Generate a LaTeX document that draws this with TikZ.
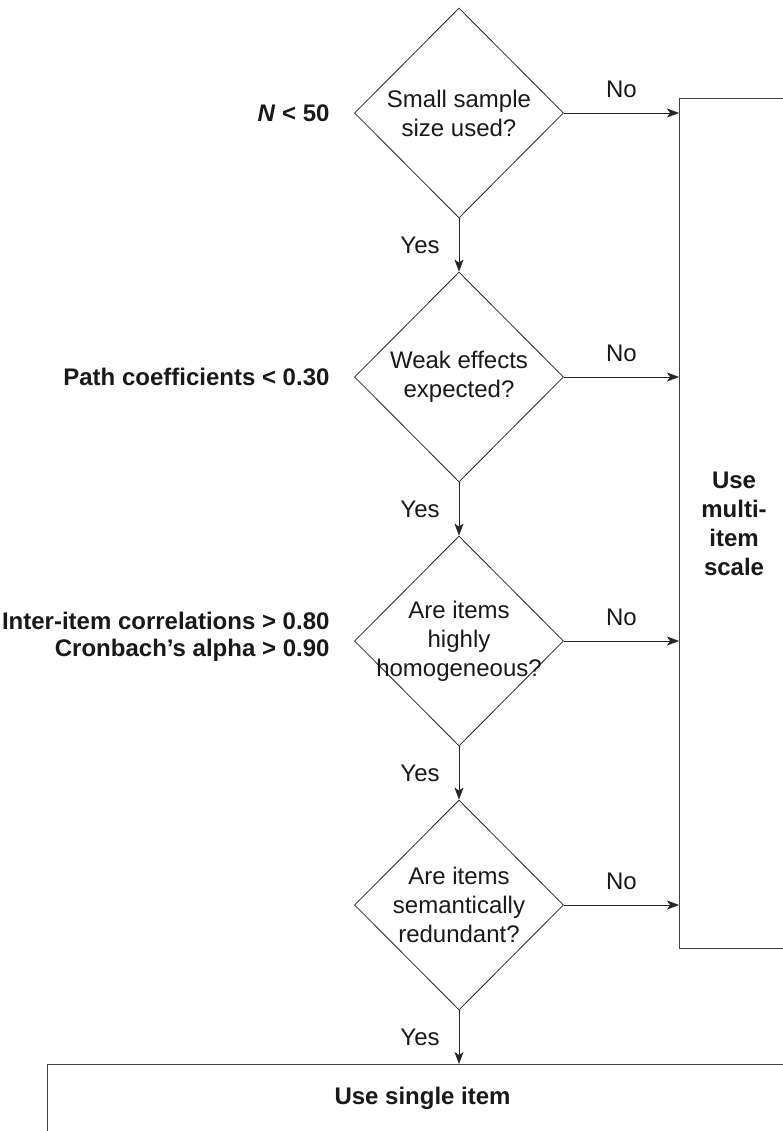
\documentclass[tikz,border=0pt]{standalone}
\usepackage{fontspec}
\setmainfont{Liberation Sans}
\usetikzlibrary{shapes.geometric,arrows.meta}

\begin{document}
\begin{tikzpicture}[
    x=1pt, y=-1pt,
    every node/.style={font=\fontsize{24}{29}\selectfont, text=black!90},
    decision/.style={draw=black!85, line width=0.8pt, diamond, minimum width=209pt, minimum height=210pt, inner sep=-14pt, align=center},
    outcome/.style={draw=black!75, line width=1.1pt, align=center, font=\fontsize{24}{29}\selectfont\bfseries},
    rule/.style={align=right, font=\fontsize{24}{27}\selectfont\bfseries},
    answer/.style={inner sep=3pt},
    arrow/.style={-{Stealth[length=12pt,width=9pt,inset=3pt]}, line width=0.8pt, draw=black!85}
  ]
  \clip (0,0) rectangle (783,1131);

  % Questions
  \node[decision] (small) at (459,113) {Small sample\\size used?};
  \node[decision] (weak) at (459,377) {Weak effects\\expected?};
  \node[decision] (homog) at (459,641) {Are items\\highly\\homogeneous?};
  \node[decision] (redund) at (459,905) {Are items\\semantically\\redundant?};

  % Rules of thumb
  \node[rule, anchor=east] (nrule) at (333,113) {\textit{N} < 50};
  \node[rule, anchor=east] (pathrule) at (333,377) {Path coefficients < 0.30};
  \node[rule, anchor=east] (alpharule) at (333,637) {Inter-item correlations > 0.80\\Cronbach’s alpha > 0.90};

  % Outcomes
  \node[outcome, anchor=north west, minimum width=109pt, minimum height=850pt] (multi) at (679,98) {Use\\multi-\\item\\scale};
  \node[outcome, anchor=north west, minimum width=750pt, minimum height=68pt] (single) at (47,1064) {Use single item};

  % Yes path
  \draw[arrow] (small.south) -- node[answer, left=16pt] (yes1) {Yes} (weak.north);
  \draw[arrow] (weak.south) -- node[answer, left=16pt] (yes2) {Yes} (homog.north);
  \draw[arrow] (homog.south) -- node[answer, left=16pt] (yes3) {Yes} (redund.north);
  \draw[arrow] (redund.south) -- node[answer, left=16pt] (yes4) {Yes} (redund.south |- single.north);

  % No path
  \draw[arrow] (small.east) -- node[answer, above=12pt] (no1) {No} (small.east -| multi.west);
  \draw[arrow] (weak.east) -- node[answer, above=12pt] (no2) {No} (weak.east -| multi.west);
  \draw[arrow] (homog.east) -- node[answer, above=12pt] (no3) {No} (homog.east -| multi.west);
  \draw[arrow] (redund.east) -- node[answer, above=12pt] (no4) {No} (redund.east -| multi.west);

\end{tikzpicture}
\end{document}
